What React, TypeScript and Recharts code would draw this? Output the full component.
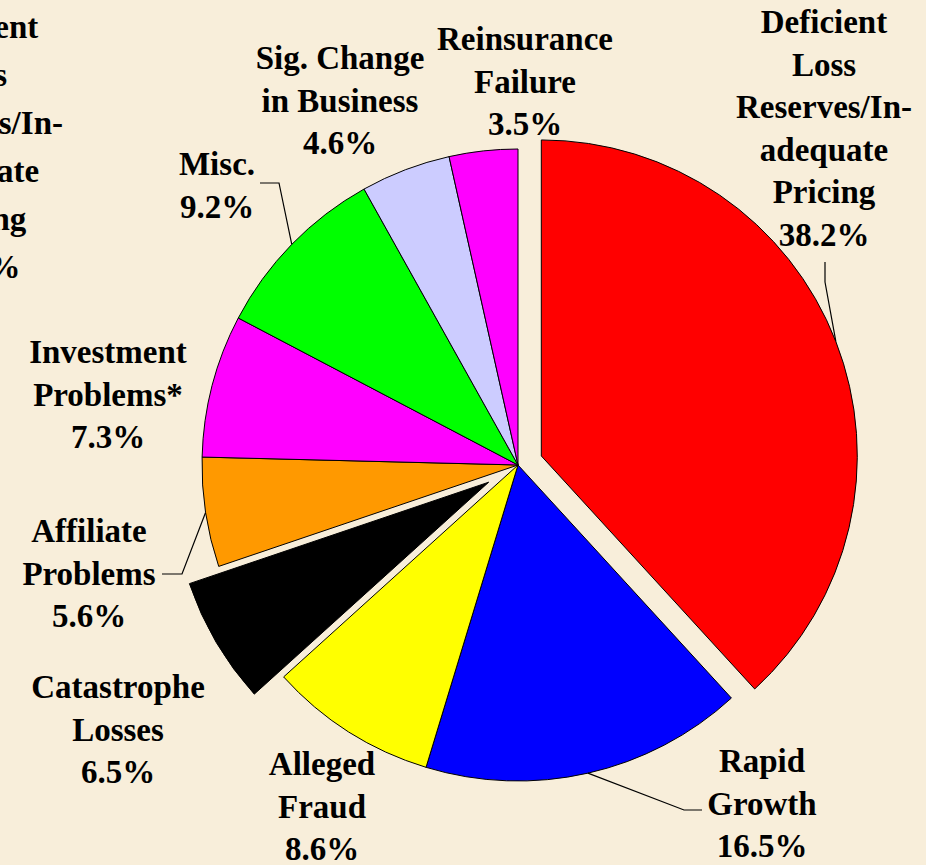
import { PieChart, Pie, Cell } from "recharts";

// causes of insurer insolvency, share of cases (%)
const categories = [
  "Deficient Loss Reserves/In-adequate Pricing",
  "Rapid Growth",
  "Alleged Fraud",
  "Catastrophe Losses",
  "Affiliate Problems",
  "Investment Problems*",
  "Misc.",
  "Sig. Change in Business",
  "Reinsurance Failure",
];
const shares = [38.2, 16.5, 8.6, 6.5, 5.6, 7.3, 9.2, 4.6, 3.5];
const labelLines = [
  ["Deficient", "Loss", "Reserves/In-", "adequate", "Pricing"],
  ["Rapid", "Growth"],
  ["Alleged", "Fraud"],
  ["Catastrophe", "Losses"],
  ["Affiliate", "Problems"],
  ["Investment", "Problems*"],
  ["Misc."],
  ["Sig. Change", "in Business"],
  ["Reinsurance", "Failure"],
];
const colors = ["#FF0000", "#0000FF", "#FFFF00", "#000000", "#FF9900", "#FF00FF", "#00FF00", "#CCCCFF", "#FF00FF"];

const data = categories.map((name, i) => ({ name, value: shares[i] }));

// layout
const W = 926;
const H = 865;
const CX = 518;
const CY = 465;
const R = 316;
const LINE_H = 42.5;
const FONT = "'Liberation Serif', 'Times New Roman', serif";
const explode: Record<number, number> = { 0: 25, 3: 34 };

// label block: centre x and first baseline, relative to pie centre; leader elbow points (text side)
const labelPos: { dx: number; dy: number; leader?: [number, number][] }[] = [
  { dx: 306, dy: -432, leader: [[307, -203], [307, -183]] },
  { dx: 244, dy: 307, leader: [[184, 345], [166, 345]] },
  { dx: -196, dy: 310 },
  { dx: -400, dy: 233 },
  { dx: -429, dy: 77, leader: [[-356, 109], [-336, 109]] },
  { dx: -410, dy: -102 },
  { dx: -301, dy: -290, leader: [[-258, -282], [-239, -282]] },
  { dx: -178, dy: -396 },
  { dx: 7, dy: -415 },
];

const RAD = Math.PI / 180;
const polar = (cx: number, cy: number, r: number, angle: number): [number, number] => [
  cx + r * Math.cos(-angle * RAD),
  cy + r * Math.sin(-angle * RAD),
];

const total = shares.reduce((a, b) => a + b, 0);
const midAngles = shares.map((v, i) => {
  const before = shares.slice(0, i).reduce((a, b) => a + b, 0);
  return 90 - (360 * (before + v / 2)) / total;
});

const textProps = {
  fontFamily: FONT,
  fontWeight: "bold" as const,
  fontSize: 33,
  fill: "#000",
  textAnchor: "middle" as const,
};

function renderLabel(props: any) {
  const { cx, cy, midAngle, outerRadius, index } = props;
  const pos = labelPos[index];
  const lines = [...labelLines[index], `${shares[index].toFixed(1)}%`];
  const x = cx + pos.dx;
  const y0 = cy + pos.dy;
  let leader = null;
  if (pos.leader) {
    const off = explode[index] ? polar(0, 0, explode[index], midAngle) : [0, 0];
    const [ax, ay] = polar(cx + off[0], cy + off[1], outerRadius, midAngle);
    const pts = [...pos.leader.map(([px, py]) => `${cx + px},${cy + py}`), `${ax},${ay}`].join(" ");
    leader = <polyline points={pts} fill="none" stroke="#000" strokeWidth={1.2} />;
  }
  return (
    <g key={`lbl-${index}`}>
      {index === 0 && (
        // leftover text from the slide behind, cut off at the left edge
        <text {...textProps} x={-25}>
          {lines.map((t, k) => (
            <tspan key={k} x={-25} y={38 + k * 48}>
              {t}
            </tspan>
          ))}
        </text>
      )}
      {leader}
      <text {...textProps} x={x}>
        {lines.map((t, k) => (
          <tspan key={k} x={x} y={y0 + k * LINE_H}>
            {t}
          </tspan>
        ))}
      </text>
    </g>
  );
}

export default function App() {
  const explodedIdx = Object.keys(explode).map(Number);
  return (
    <div style={{ position: "absolute", left: 0, top: 0, width: W, height: H, background: "#F8EEDA", overflow: "hidden" }}>
      <PieChart width={W} height={H} margin={{ top: 0, right: 0, bottom: 0, left: 0 }}>
        <Pie
          data={data}
          dataKey="value"
          nameKey="name"
          cx={CX}
          cy={CY}
          outerRadius={R}
          startAngle={90}
          endAngle={-270}
          isAnimationActive={false}
          label={renderLabel}
          labelLine={false}
        >
          {data.map((d, i) => (
            <Cell
              key={d.name}
              fill={explode[i] ? "none" : colors[i]}
              stroke={explode[i] ? "none" : "#000"}
              strokeWidth={1}
            />
          ))}
        </Pie>
        {explodedIdx.map((ei) => {
          const [ox, oy] = polar(0, 0, explode[ei], midAngles[ei]);
          return (
            <Pie
              key={`ex-${ei}`}
              data={data}
              dataKey="value"
              nameKey="name"
              cx={CX + ox}
              cy={CY + oy}
              outerRadius={R}
              startAngle={90}
              endAngle={-270}
              isAnimationActive={false}
            >
              {data.map((d, i) => (
                <Cell
                  key={d.name}
                  fill={i === ei ? colors[i] : "none"}
                  stroke={i === ei ? "#000" : "none"}
                  strokeWidth={1}
                />
              ))}
            </Pie>
          );
        })}
      </PieChart>
    </div>
  );
}
